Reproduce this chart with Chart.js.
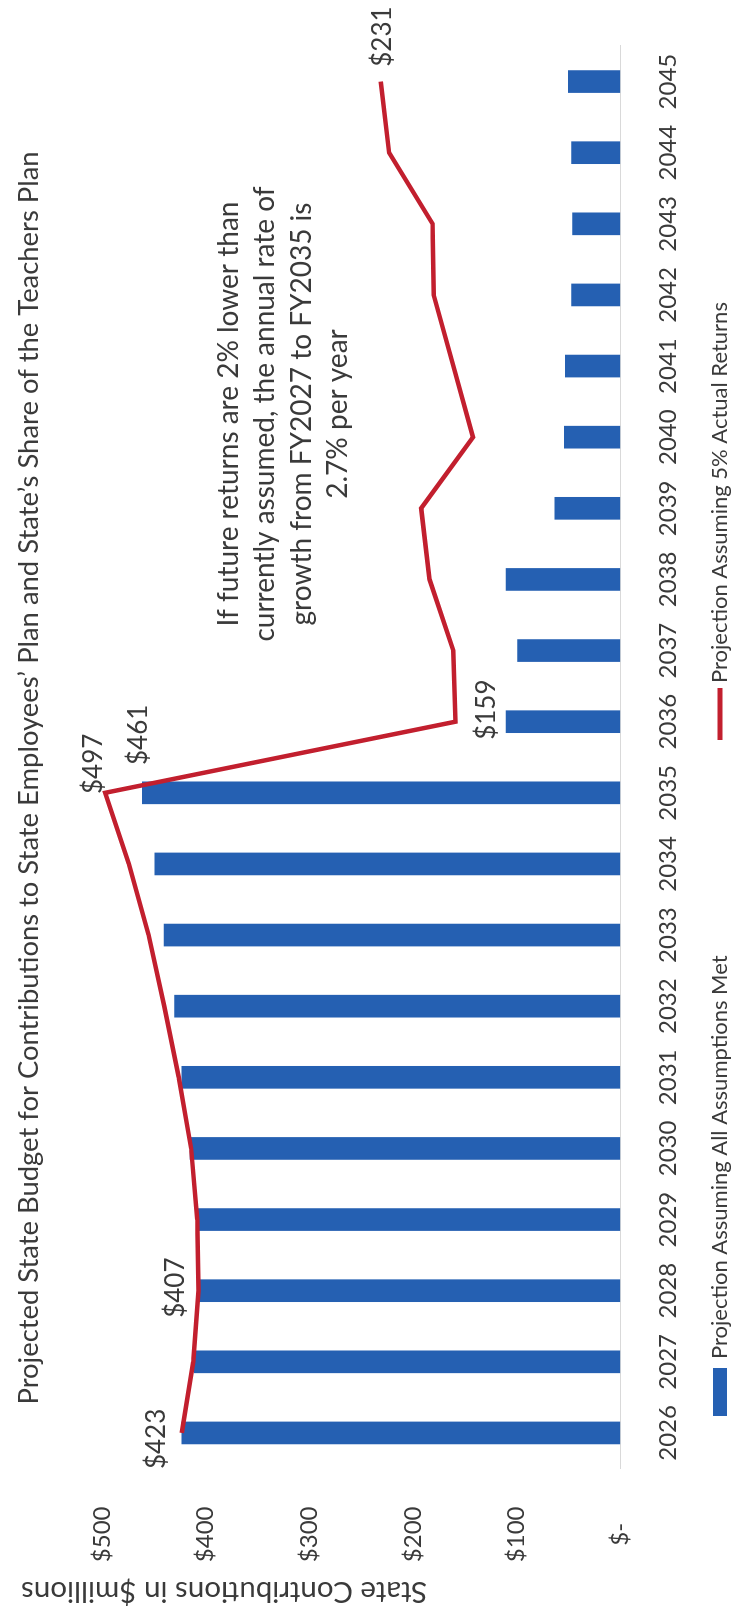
<!DOCTYPE html>
<html>
<head>
<meta charset="utf-8">
<script src="https://cdn.jsdelivr.net/npm/chart.js@4.4.1/dist/chart.umd.min.js"></script>
<style>
html, body { margin: 0; padding: 0; background: #fff; overflow: hidden; }
body { width: 731px; height: 1616px; position: relative; }
/* the chart is drawn landscape and turned a quarter turn to the left */
#wrap {
    position: absolute; left: 0; top: 0;
    width: 1616px; height: 731px;
    transform-origin: 0 0;
    transform: translateY(1616px) rotate(-90deg);
}
</style>
</head>
<body>
<div id="wrap"><canvas id="budgetChart" width="1616" height="731"></canvas></div>
<script>

/* DATA */

const years = [
    "2026","2027","2028","2029","2030","2031","2032","2033","2034","2035",
    "2036","2037","2038","2039","2040","2041","2042","2043","2044","2045"
];

const allAssumptionsMet = [423,411,406,407,415,423,430,440,449,461,110,99,110,63,54,53,47,46,47,50];

const fivePctReturns = [423,412,407,408,414,426,440,455,474,497,159,161,184,192,142,161,180,181,223,231];

const valueTicks = [0,100,200,300,400,500];
const valueTickLabels = ["$-","$100","$200","$300","$400","$500"];

const seriesNames = [
    "Projection Assuming All Assumptions Met",
    "Projection Assuming 5% Actual Returns"
];

const chartTitle = "Projected State Budget for Contributions to State Employees\u2019 Plan and State\u2019s Share of the Teachers Plan";
const axisTitle = "State Contributions in $millions";

const noteLines = [
    "If future returns are 2% lower than",
    "currently assumed, the annual rate of",
    "growth from FY2027 to FY2035 is",
    "2.7% per year"
];

/* COLOURS */

const BLUE = '#2560b2';
const RED = '#c21f2e';
const TEXT = '#3a3a3a';

Chart.defaults.font.family = 'Lato';
Chart.defaults.color = TEXT;

/* TITLE, LABELS, NOTE, AXIS TITLE, LEGEND */

const extras = {
    id: 'extras',
    afterDraw(chart){

        const ctx = chart.ctx;
        const bars = chart.getDatasetMeta(0).data;
        const line = chart.getDatasetMeta(1).data;

        ctx.save();
        ctx.fillStyle = TEXT;
        ctx.textAlign = 'center';
        ctx.textBaseline = 'middle';

        /* chart title */
        ctx.font = '27.4px Lato';
        ctx.fillText(chartTitle, 838, 29);

        /* data labels: [element, value, dx, dy] */
        ctx.font = '26px Lato';
        [
            [line[0], fivePctReturns[0], -6, -25],
            [line[2], fivePctReturns[2], 3, -23],
            [line[9], fivePctReturns[9], 29, -11],
            [bars[9], allAssumptionsMet[9], 58, -4],
            [line[10], fivePctReturns[10], 12, 31],
            [line[19], fivePctReturns[19], 45, 2]
        ].forEach(([el, v, dx, dy]) => {
            ctx.fillText('$' + v, el.x + dx, el.y + dy);
        });

        /* note */
        ctx.font = '28px Lato';
        noteLines.forEach((t, i) => {
            ctx.fillText(t, 1202, 229 + i * 36.3);
        });

        /* value axis title */
        ctx.save();
        ctx.font = '29.5px Lato';
        ctx.translate(24, 224);
        ctx.rotate(-Math.PI / 2);
        ctx.fillText(axisTitle, 0, 0);
        ctx.restore();

        /* legend */
        ctx.font = '22px Lato';
        ctx.textAlign = 'left';
        ctx.fillStyle = BLUE;
        ctx.fillRect(200, 713, 48, 14);
        ctx.fillStyle = TEXT;
        ctx.fillText(seriesNames[0], 257, 720);

        ctx.strokeStyle = RED;
        ctx.lineWidth = 5;
        ctx.beginPath();
        ctx.moveTo(876, 720);
        ctx.lineTo(928, 720);
        ctx.stroke();
        ctx.fillText(seriesNames[1], 933, 720);

        ctx.restore();
    }
};

/* CHART */

const budgetChart = new Chart(
document.getElementById('budgetChart'),{

    type:'bar',

    data:{
        labels:years,

        datasets:[{
            type:'bar',
            label:seriesNames[0],
            data:allAssumptionsMet,
            backgroundColor:BLUE,
            barThickness:22,
            order:2
        },{
            type:'line',
            label:seriesNames[1],
            data:fivePctReturns,
            borderColor:RED,
            borderWidth:4.5,
            pointRadius:0,
            tension:0,
            order:1
        }]
    },

    options:{
        responsive:false,
        animation:false,
        layout:{
            padding:{ left:16, right:46, top:102, bottom:14 }
        },
        plugins:{
            legend:{ display:false },
            tooltip:{ enabled:false },
            title:{ display:false }
        },
        scales:{
            x:{
                grid:{ display:false, drawTicks:false },
                border:{ display:true, color:'#d9d9d9', width:1 },
                ticks:{ color:TEXT, font:{ size:24 }, padding:34, maxRotation:0, autoSkip:false }
            },
            y:{
                min:0,
                max:500,
                grid:{ display:false, drawTicks:false },
                border:{ display:false },
                afterFit:(scale)=>{ scale.width = 131.5; },
                afterBuildTicks:(scale)=>{ scale.ticks = valueTicks.map(v => ({ value:v })); },
                ticks:{
                    color:TEXT,
                    font:{ size:24 },
                    padding:38,
                    crossAlign:'center',
                    callback:(v)=>valueTickLabels[valueTicks.indexOf(v)]
                }
            }
        }
    },

    plugins:[extras]

});

</script>
</body>
</html>
